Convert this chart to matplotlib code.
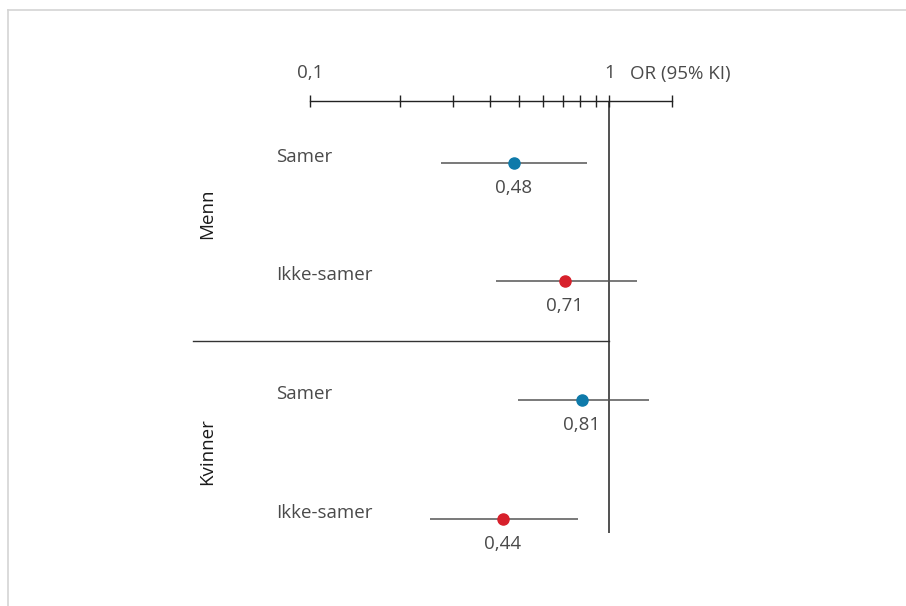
"""Forest plot: OR (95% KI) for samer / ikke-samer, menn og kvinner."""
import matplotlib
matplotlib.use('Agg')
import matplotlib.pyplot as plt
from matplotlib.lines import Line2D

plt.rcParams['font.family'] = ['Open Sans', 'DejaVu Sans']

# Data
groups = ['Menn', 'Kvinner']
labels = ['Samer', 'Ikke-samer', 'Samer', 'Ikke-samer']
odds = [0.48, 0.71, 0.81, 0.44]
ci_low = [0.274, 0.419, 0.496, 0.252]
ci_high = [0.844, 1.24, 1.36, 0.788]
value_text = ['0,48', '0,71', '0,81', '0,44']
colors = ['#0E7AAA', '#D7202B', '#0E7AAA', '#D7202B']

text_col = '#4a4a4a'
fs = 13.5
W, H = 906, 606

fig = plt.figure(figsize=(W / 100, H / 100), dpi=100)
# axes spans from x=0.1 (px 310) to x-end (px ~672), y from px 101 to px 533
ax = fig.add_axes([310 / W, 1 - 533 / H, (672 - 310) / W, (533 - 101) / H])

rows = list(range(len(odds)))
for r, o, lo, hi, c, t in zip(rows, odds, ci_low, ci_high, colors, value_text):
    ax.plot([lo, hi], [r, r], color='#555555', lw=1.1, solid_capstyle='butt', zorder=2)
    ax.plot(o, r, 'o', color=c, markersize=8, zorder=3)
    ax.annotate(t, (o, r), xytext=(0, -25), textcoords='offset pixels',
                ha='center', va='center', fontsize=fs, color=text_col)

for r, lab in zip(rows, labels):
    ax.annotate(lab, xy=(276 / W, r), xycoords=('figure fraction', 'data'),
                xytext=(0, 6), textcoords='offset pixels',
                ha='left', va='center', fontsize=fs, color=text_col)

for i, g in enumerate(groups):
    ax.annotate(g, xy=(207 / W, 2 * i + 0.5), xycoords=('figure fraction', 'data'),
                xytext=(0, 8), textcoords='offset pixels', rotation=90,
                ha='center', va='center', fontsize=fs, color='#1a1a1a')

ax.set_xscale('log')
ax.set_xlim(0.1, 1.62)
ax.set_ylim(3.12, -0.52)

# reference line at OR = 1 and group divider
ax.axvline(1, color='#222222', lw=1.1, zorder=1)
ax.axhline(1.5, xmin=(193 - 310) / (672 - 310), xmax=(609 - 310) / (672 - 310),
           color='#333333', lw=1.0, clip_on=False)

for s in ['left', 'right', 'bottom']:
    ax.spines[s].set_visible(False)
ax.spines['top'].set_color('#222222')
ax.spines['top'].set_linewidth(1.0)
ax.set_yticks([])
ax.xaxis.set_ticks_position('top')
ax.set_xticks([0.1, 1, 1.62])
ax.set_xticklabels(['0,1', '1', ''])
ax.set_xticks([0.2, 0.3, 0.4, 0.5, 0.6, 0.7, 0.8, 0.9], minor=True)
ax.set_xticklabels([], minor=True)
ax.tick_params(axis='x', which='both', direction='inout', length=9, width=1.0,
               color='#222222', labelsize=fs, labelcolor=text_col, pad=9)
ax.annotate('OR (95% KI)', xy=(1, 1), xycoords=('data', 'axes fraction'),
            xytext=(21, 27), textcoords='offset pixels', ha='left', va='center',
            fontsize=fs, color=text_col)

# light frame at top and left
fig.add_artist(Line2D([8 / W, 1], [1 - 10 / H, 1 - 10 / H], color='#d4d4d4', lw=1.2))
fig.add_artist(Line2D([8 / W, 8 / W], [0, 1 - 10 / H], color='#d4d4d4', lw=1.2))

plt.savefig('out.png', dpi=100)
